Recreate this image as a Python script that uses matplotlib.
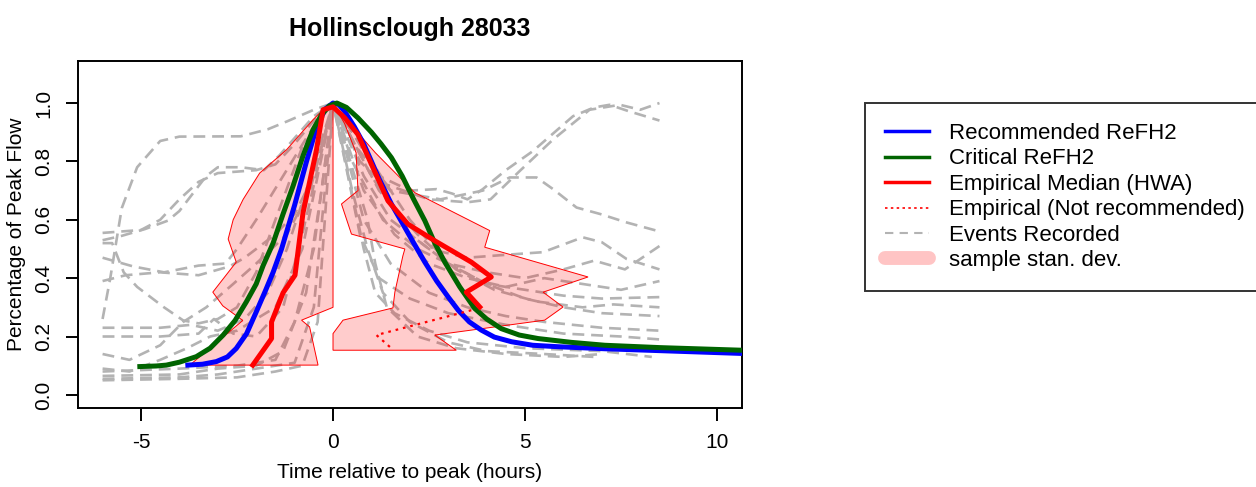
import matplotlib
matplotlib.use("Agg")
import matplotlib.pyplot as plt
from matplotlib.lines import Line2D

plt.rcParams['font.family'] = ['Liberation Sans', 'DejaVu Sans']
plt.rcParams['axes.unicode_minus'] = False

# recorded events (time relative to peak, fraction of peak flow)
event_t = [
    [-6, -5.8, -5.5, -5.1, -4.5, -4, -2.4, -1.7, -1.2, -0.5, 0, 0.5, 1.2, 2.0, 2.7, 3.1, 3.5, 3.9, 4.5, 5.2, 6.25, 6.8, 7.2, 7.7, 8.5],
    [-6, -5.5, -4.9, -4.3, -4, -3.3, -3.0, -2.4, -1.8, -1.4, -0.5, 0, 0.6, 1.4, 2.5, 3.5, 4.1, 4.86, 5.73, 6.68, 7.47, 8.0, 8.5],
    [-6, -5, -4.5, -4, -3.5, -3, -2, -1.5, -1, -0.5, 0, 0.7, 1.5, 2.8, 3.9, 4.6, 5.3, 5.73, 6.34, 6.95, 7.64, 8.5],
    [-6, -5.2, -4.4, -3.5, -2.8, -2.5, -2, -1.3, -0.6, 0, 0.8, 1.5, 2.5, 3.5, 4.5, 5.47, 6.5, 7.0, 7.64, 8.5],
    [-6, -5.4, -4.5, -3.5, -2.7, -2.3, -1.5, -1.0, -0.5, 0, 0.5, 1.3, 2.2, 3.0, 4.0, 5.0, 6.0, 6.8, 7.6, 8.5],
    [-6, -5.75, -5.45, -5.1, -4.4, -3.9, -3.5, -3.0, -2.5, -2.0, -1.5, -0.8, 0, 0.8, 1.6, 2.5, 3.5, 4.5, 5.5, 6.5, 7.5, 8.5],
    [-6, -4.5, -3.7, -3.0, -2.3, -1.7, -1.2, -0.7, 0, 1.0, 2.0, 3.0, 4.0, 5.0, 6.0, 7.0, 8.5],
    [-6, -4.5, -3.5, -3.1, -2.6, -2, -1.3, -0.8, 0, 1.2, 2.2, 3.2, 4.2, 5.3, 6.5, 7.3, 8.5],
    [-6, -5.3, -4.5, -3.9, -3.3, -2.6, -2.0, -1.2, -0.6, 0, 1.0, 2.0, 3.0, 4.0, 5.0, 6.0, 7.0, 8.5],
    [-6, -5.3, -4.5, -3.8, -3.2, -2.5, -1.5, -0.8, 0, 0.8, 1.5, 2.5, 3.5, 4.5, 5.5, 7.0, 8.5],
    [-6, -4, -2.5, -1.5, -1.0, -0.5, 0, 0.7, 1.2, 2.0, 3.0, 4.5, 6.0, 7.5, 8.5],
    [-6, -4, -3, -2, -1.3, -0.7, -0.3, 0, 0.8, 1.1, 1.6, 2.5, 3.5, 5.0, 7.0, 8.3],
    [-6, -4, -3, -2, -1, -0.5, 0, 0.9, 1.1, 1.4, 2.2, 3.2, 4.5, 6.0, 7.0],
    [-6, -4, -2.5, -1.5, -0.8, -0.4, 0, 0.5, 0.9, 1.3, 2.0, 3.0, 4.0, 5.5, 6.8],
]
event_q = [
    [0.26, 0.40, 0.64, 0.78, 0.87, 0.885, 0.886, 0.91, 0.937, 0.977, 1.0, 0.9, 0.75, 0.70, 0.705, 0.69, 0.67, 0.705, 0.77, 0.835, 0.955, 0.985, 0.994, 0.972, 0.94],
    [0.53, 0.545, 0.568, 0.597, 0.63, 0.75, 0.78, 0.78, 0.77, 0.82, 0.955, 1.0, 0.85, 0.72, 0.67, 0.66, 0.67, 0.767, 0.875, 0.977, 0.994, 0.977, 1.0],
    [0.555, 0.565, 0.60, 0.67, 0.73, 0.76, 0.77, 0.79, 0.86, 0.94, 1.0, 0.8, 0.7, 0.67, 0.70, 0.745, 0.745, 0.705, 0.642, 0.62, 0.591, 0.56],
    [0.47, 0.44, 0.42, 0.443, 0.45, 0.5, 0.6, 0.75, 0.9, 1.0, 0.75, 0.6, 0.5, 0.47, 0.48, 0.489, 0.54, 0.523, 0.466, 0.43],
    [0.39, 0.41, 0.42, 0.41, 0.44, 0.47, 0.55, 0.62, 0.75, 1.0, 0.8, 0.6, 0.5, 0.45, 0.42, 0.40, 0.43, 0.46, 0.43, 0.51],
    [0.52, 0.52, 0.42, 0.37, 0.30, 0.255, 0.245, 0.26, 0.30, 0.42, 0.6, 0.85, 1.0, 0.7, 0.55, 0.45, 0.40, 0.37, 0.40, 0.38, 0.36, 0.39],
    [0.23, 0.23, 0.24, 0.22, 0.26, 0.35, 0.5, 0.7, 1.0, 0.75, 0.55, 0.45, 0.38, 0.36, 0.34, 0.33, 0.335],
    [0.20, 0.20, 0.21, 0.26, 0.21, 0.2, 0.3, 0.55, 1.0, 0.7, 0.55, 0.43, 0.36, 0.32, 0.30, 0.31, 0.30],
    [0.14, 0.12, 0.17, 0.25, 0.30, 0.38, 0.45, 0.55, 0.7, 1.0, 0.8, 0.6, 0.45, 0.38, 0.33, 0.30, 0.28, 0.27],
    [0.09, 0.08, 0.12, 0.16, 0.20, 0.22, 0.3, 0.5, 1.0, 0.6, 0.45, 0.35, 0.30, 0.27, 0.25, 0.23, 0.22],
    [0.08, 0.09, 0.10, 0.12, 0.25, 0.5, 1.0, 0.55, 0.40, 0.33, 0.28, 0.24, 0.21, 0.20, 0.19],
    [0.065, 0.07, 0.09, 0.10, 0.15, 0.35, 0.7, 1.0, 0.5, 0.35, 0.28, 0.22, 0.18, 0.16, 0.15, 0.13],
    [0.055, 0.06, 0.07, 0.09, 0.11, 0.3, 1.0, 0.6, 0.45, 0.3, 0.2, 0.16, 0.14, 0.13, 0.14],
    [0.05, 0.055, 0.06, 0.08, 0.10, 0.25, 1.0, 0.7, 0.5, 0.35, 0.25, 0.18, 0.15, 0.14, 0.13],
]

# ReFH2 hydrographs
rec_t = [-3.78, -3.4, -3.04, -2.75, -2.52, -2.25, -2.0, -1.75, -1.56, -1.34, -1.0, -0.69, -0.5, -0.35, -0.2, 0,
         0.15, 0.3, 0.55, 0.8, 1.0, 1.2, 1.52, 1.8, 2.08, 2.39, 2.7, 3.0, 3.26, 3.55, 3.86, 4.2, 4.65, 5.2, 5.86, 7.08, 10.64]
rec_q = [0.102, 0.105, 0.114, 0.13, 0.159, 0.21, 0.284, 0.36, 0.42, 0.50, 0.65, 0.80, 0.885, 0.94, 0.98, 1.0,
         0.995, 0.972, 0.92, 0.86, 0.80, 0.74, 0.654, 0.59, 0.525, 0.455, 0.39, 0.335, 0.29, 0.25, 0.222, 0.198, 0.182, 0.17, 0.165, 0.158, 0.142]
crit_t = [-5.03, -4.6, -4.34, -4.0, -3.56, -3.2, -2.86, -2.55, -2.26, -2.0, -1.82, -1.56, -1.3, -1.04, -0.78, -0.52, -0.3, -0.1, 0.1,
          0.35, 0.65, 1.0, 1.25, 1.52, 1.8, 2.1, 2.39, 2.65, 2.91, 3.3, 3.69, 4.0, 4.38, 4.85, 5.34, 6.2, 7.08, 8.5, 10.64]
crit_q = [0.097, 0.099, 0.102, 0.112, 0.131, 0.16, 0.205, 0.255, 0.318, 0.38, 0.443, 0.52, 0.62, 0.716, 0.82, 0.909, 0.96, 0.99, 1.0,
          0.985, 0.949, 0.90, 0.86, 0.813, 0.75, 0.67, 0.597, 0.52, 0.455, 0.37, 0.296, 0.26, 0.227, 0.205, 0.193, 0.18, 0.17, 0.162, 0.153]

# empirical median (HWA)
med_t = [-2.09, -1.6, -1.6, -1.3, -0.99, -0.87, -0.78, -0.43, -0.26, 0, 0.3, 0.65, 1.08, 1.43, 1.95, 2.65, 3.6, 4.12, 3.47, 3.82]
med_q = [0.102, 0.193, 0.25, 0.35, 0.41, 0.534, 0.625, 0.84, 0.977, 0.987, 0.95, 0.892, 0.767, 0.665, 0.585, 0.528, 0.455, 0.404, 0.352, 0.301]
nr_t = [3.6, 1.13, 1.56]
nr_q = [0.29, 0.205, 0.155]

# sample standard deviation envelopes
sd_rise_t = [-3.73, -2.35, -2.87, -3.13, -2.52, -2.73, -2.6, -2.34, -1.91, -1.21, -0.52, -0.17, 0, 0, -0.82, -0.61, -0.39]
sd_rise_q = [0.102, 0.255, 0.305, 0.352, 0.455, 0.534, 0.60, 0.67, 0.76, 0.84, 0.943, 0.989, 0.99, 0.30, 0.256, 0.233, 0.102]
sd_fall_t = [0.04, 0.5, 1.1, 2.13, 4.08, 3.95, 6.64, 5.47, 5.99, 5.51, 2.65, 3.21, 0, 0, 0.26, 1.56, 1.61, 1.82, 1.87, 0.48, 0.22, 0.65, 0.6, 0.3]
sd_fall_q = [0.99, 0.92, 0.83, 0.693, 0.563, 0.506, 0.404, 0.352, 0.301, 0.256, 0.205, 0.153, 0.153, 0.21, 0.256, 0.298, 0.352, 0.477, 0.50, 0.551, 0.654, 0.70, 0.83, 0.93]

fig = plt.figure(figsize=(12.56, 4.87), dpi=100)
ax = fig.add_axes([0.0621, 0.1628, 0.5284, 0.7119])

for t, q in zip(event_t, event_q):
    ax.plot(t, q, color='#b3b3b3', lw=1.9, linestyle=(0, (4.5, 2.6)), zorder=1)

ax.fill(sd_rise_t, sd_rise_q, facecolor=(1, 0, 0, 0.2), edgecolor='red', lw=0.7, zorder=2)
ax.fill(sd_fall_t, sd_fall_q, facecolor=(1, 0, 0, 0.2), edgecolor='red', lw=0.7, zorder=2)

ax.plot(rec_t, rec_q, color='blue', lw=3.6, zorder=3, solid_joinstyle='round')
ax.plot(crit_t, crit_q, color='#006400', lw=3.6, zorder=4, solid_joinstyle='round')
ax.plot(med_t, med_q, color='red', lw=3.6, zorder=5, solid_joinstyle='round')
ax.plot(nr_t, nr_q, color='red', lw=1.6, linestyle=(0, (1.2, 2.2)), zorder=5)

ax.set_xlim(-6.64, 10.64)
ax.set_ylim(-0.044, 1.144)
ax.set_xticks([-5, 0, 5, 10])
ax.set_yticks([0, 0.2, 0.4, 0.6, 0.8, 1.0])
ax.set_yticklabels(['0.0', '0.2', '0.4', '0.6', '0.8', '1.0'], rotation=90, va='center')
ax.tick_params(labelsize=15, length=9, width=1.4, pad=9)
for s in ax.spines.values():
    s.set_linewidth(1.4)

ax.set_xlabel('Time relative to peak (hours)', fontsize=15, labelpad=8)
ax.set_ylabel('Percentage of Peak Flow', fontsize=15, labelpad=6)
ax.set_title('Hollinsclough 28033', fontsize=18, fontweight='bold', pad=18)

handles = [
    Line2D([], [], color='blue', lw=2.5),
    Line2D([], [], color='#006400', lw=2.5),
    Line2D([], [], color='red', lw=2.5),
    Line2D([], [], color='red', lw=1.2, linestyle=(0, (1.5, 2))),
    Line2D([], [], color='#b3b3b3', lw=1.5, linestyle=(0, (4, 3))),
    Line2D([], [], color='#ffc4c4', lw=10, solid_capstyle='round'),
]
labels = ['Recommended ReFH2', 'Critical ReFH2', 'Empirical Median (HWA)',
          'Empirical (Not recommended)', 'Events Recorded', 'sample stan. dev.']
leg = fig.legend(handles, labels, loc='upper left', bbox_to_anchor=(865 / 1256, 1 - 103 / 487),
                 fontsize=16, frameon=True, fancybox=False, edgecolor='black',
                 handlelength=2.0, handletextpad=0.9, labelspacing=0.2, borderpad=0.9,
                 borderaxespad=0)
leg.get_frame().set_linewidth(1.4)

fig.savefig('out.png', dpi=100)
